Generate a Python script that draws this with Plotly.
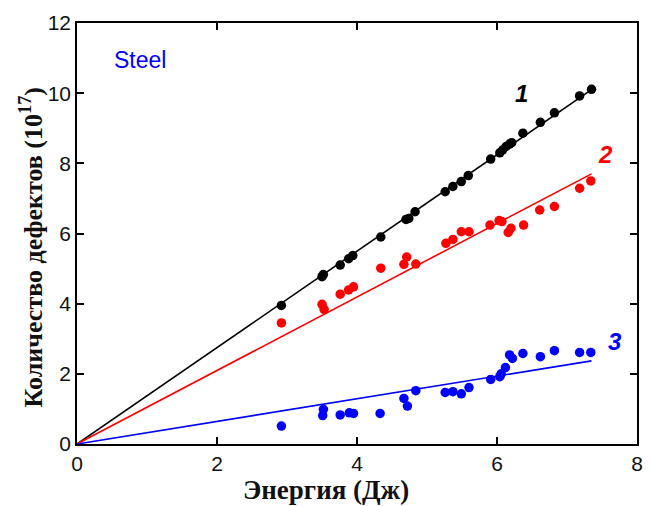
import plotly.graph_objects as go

# Energy (J) of each measurement
energy = [2.92, 3.50, 3.52, 3.76, 3.88, 3.94, 4.34, 4.70, 4.74, 4.83, 5.26, 5.37,
          5.49, 5.59, 5.91, 6.04, 6.08, 6.13, 6.18, 6.21, 6.37, 6.62, 6.82, 7.18, 7.35]

# Defect counts (x10^17) for the three series
defects_1 = [3.95, 4.77, 4.83, 5.10, 5.28, 5.37, 5.90, 6.40, 6.43, 6.62, 7.19, 7.34,
             7.48, 7.65, 8.12, 8.30, 8.38, 8.48, 8.55, 8.59, 8.86, 9.17, 9.44, 9.92, 10.11]

energy_2 = [2.92, 3.50, 3.53, 3.76, 3.88, 3.95, 4.34, 4.67, 4.71, 4.84, 5.27, 5.37,
            5.49, 5.60, 5.90, 6.03, 6.07, 6.16, 6.20, 6.38, 6.61, 6.82, 7.18, 7.34]
defects_2 = [3.45, 3.98, 3.84, 4.27, 4.39, 4.48, 5.01, 5.12, 5.33, 5.13, 5.72, 5.83,
             6.05, 6.05, 6.24, 6.37, 6.34, 6.03, 6.15, 6.24, 6.67, 6.77, 7.29, 7.50]

energy_3 = [2.92, 3.52, 3.51, 3.76, 3.89, 3.95, 4.33, 4.67, 4.72, 4.84, 5.26, 5.37,
            5.49, 5.60, 5.91, 6.04, 6.06, 6.12, 6.18, 6.22, 6.37, 6.62, 6.82, 7.18, 7.34]
defects_3 = [0.51, 0.99, 0.81, 0.83, 0.89, 0.87, 0.87, 1.30, 1.08, 1.52, 1.47, 1.49,
             1.43, 1.61, 1.84, 1.92, 2.00, 2.18, 2.54, 2.44, 2.58, 2.49, 2.66, 2.61, 2.61]

# Linear fits through the origin (end points)
fit_x = [0.0, 7.35]
fit_1 = [0.0, 10.10]
fit_2 = [0.0, 7.70]
fit_3 = [0.0, 2.37]

x_ticks = [0, 2, 4, 6, 8]
y_ticks = [0, 2, 4, 6, 8, 10, 12]

BLACK, RED, BLUE = "#000000", "#ff0000", "#0000ff"

fig = go.Figure()

for fx, fy, col in [(fit_x, fit_1, BLACK), (fit_x, fit_2, RED), (fit_x, fit_3, BLUE)]:
    fig.add_trace(go.Scatter(x=fx, y=fy, mode="lines",
                             line=dict(color=col, width=1.6), showlegend=False,
                             hoverinfo="skip"))

for ex, dy, col in [(energy, defects_1, BLACK), (energy_2, defects_2, RED),
                    (energy_3, defects_3, BLUE)]:
    fig.add_trace(go.Scatter(x=ex, y=dy, mode="markers",
                             marker=dict(color=col, size=9.5, line=dict(width=0)),
                             showlegend=False))

axis_common = dict(
    showgrid=False, zeroline=False, showline=True, linecolor="#000000", linewidth=1.6,
    mirror="allticks", ticks="inside", ticklen=7, tickwidth=1.6, tickcolor="#000000",
    tickfont=dict(family="Liberation Sans, Arial", size=21, color="#111111"),
)

fig.update_xaxes(range=[0, 8], tickvals=x_ticks, **axis_common)
fig.update_yaxes(range=[0, 12], tickvals=y_ticks, **axis_common)

series_labels = [("1", 6.35, 10.0, BLACK), ("2", 7.55, 8.24, RED), ("3", 7.69, 2.91, BLUE)]
annotations = []
for txt, ax_, ay_, col in series_labels:
    annotations.append(dict(x=ax_, y=ay_, xref="x", yref="y", text=f"<b><i>{txt}</i></b>",
                            showarrow=False,
                            font=dict(family="Liberation Sans, Arial", size=24, color=col)))

annotations.append(dict(x=0.5, y=10.95, xref="x", yref="y", text="Steel", showarrow=False,
                        xanchor="left",
                        font=dict(family="Liberation Sans, Arial", size=23, color=BLUE)))

annotations.append(dict(x=0.445, y=-0.109, xref="paper", yref="paper",
                        text="<b>Энергия (Дж)</b>", showarrow=False,
                        xanchor="center", yanchor="middle",
                        font=dict(family="Liberation Serif, Times New Roman", size=27,
                                  color="#111111")))

annotations.append(dict(x=-0.0795, y=0.468, xref="paper", yref="paper",
                        text="<b>Количество дефектов (10<sup>17</sup>)</b>", showarrow=False,
                        textangle=-90, xanchor="center", yanchor="middle",
                        font=dict(family="Liberation Serif, Times New Roman", size=26,
                                  color="#111111")))

fig.update_layout(
    width=650, height=506,
    margin=dict(l=77, r=7, t=23, b=62),
    plot_bgcolor="white", paper_bgcolor="white",
    annotations=annotations,
)

fig.write_html("out.html")
